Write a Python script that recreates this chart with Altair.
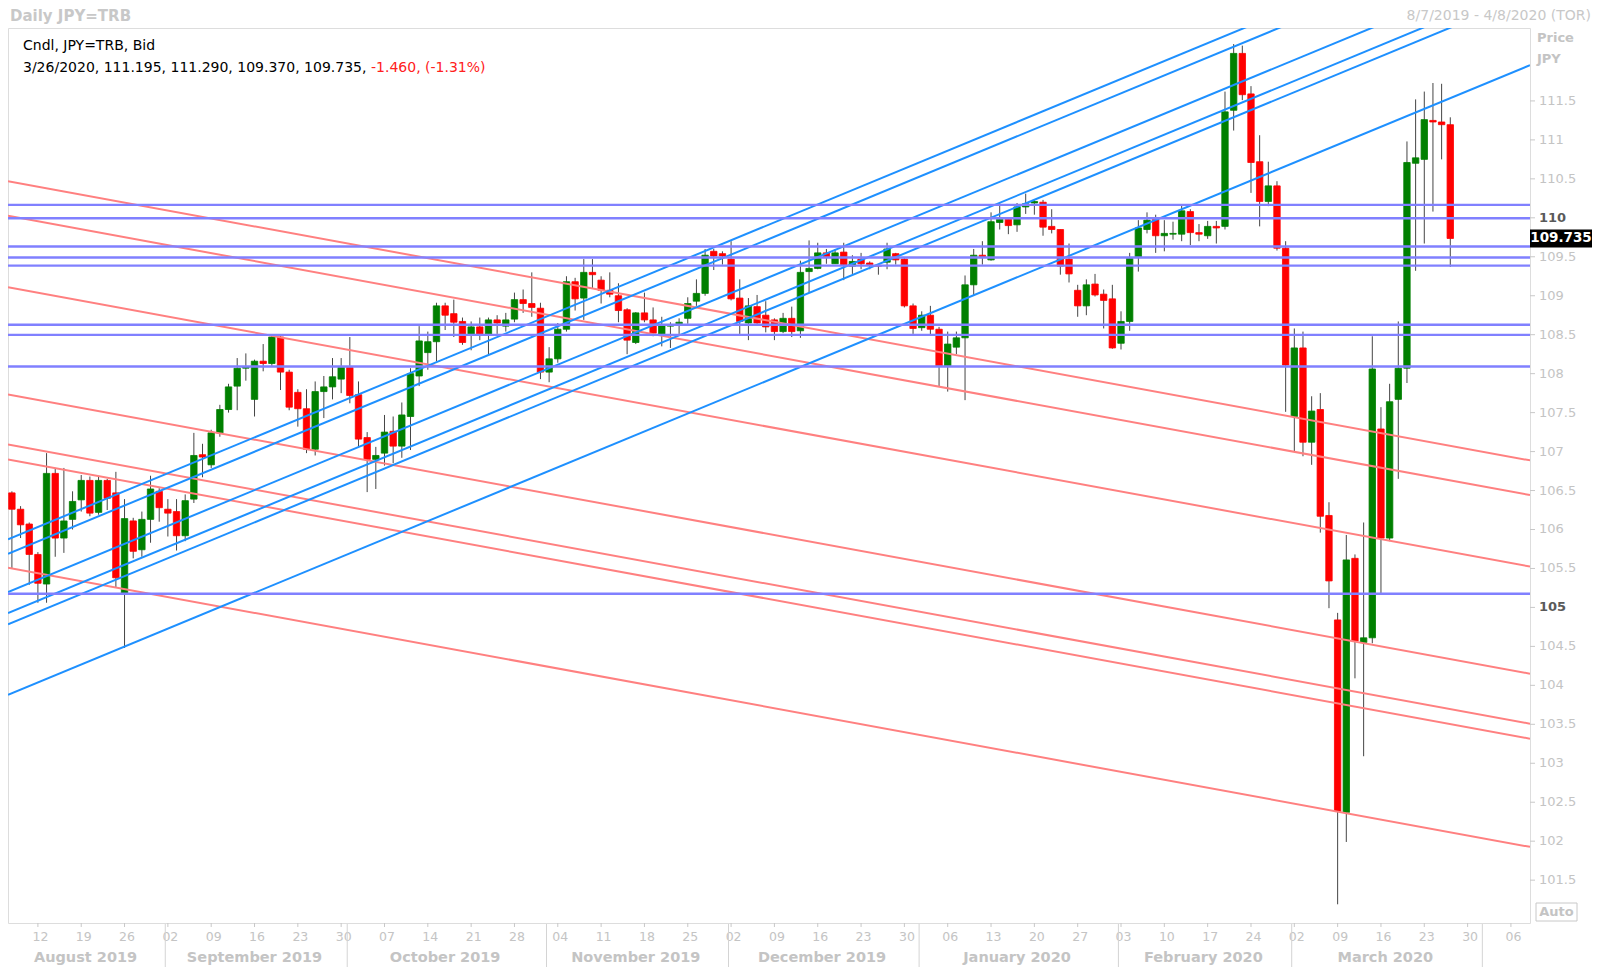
import altair as alt
import pandas as pd

# ------------------------------------------------------------------ data
start_date = "2019-08-07"
last_date = "2020-03-26"
axis_end_date = "2020-04-08"

open_ = [
    106.47, 106.26, 106.07, 105.68, 105.30, 106.72, 105.89, 106.13, 106.38, 106.63,
    106.22, 106.63, 106.47, 105.18, 106.11, 105.74, 106.13, 106.49, 106.26, 106.23,
    105.92, 106.39, 106.96, 106.83, 107.24, 107.54, 107.84, 108.07, 107.67, 108.16,
    108.13, 108.47, 108.02, 107.76, 107.55, 107.03, 107.77, 107.83, 107.93, 108.08,
    107.73, 107.18, 106.90, 106.98, 107.26, 107.07, 107.45, 107.97, 108.27, 108.41,
    108.87, 108.77, 108.67, 108.51, 108.60, 108.51, 108.69, 108.61, 108.70, 108.95,
    108.90, 108.84, 108.02, 108.19, 108.57, 109.18, 108.97, 109.30, 109.20, 109.07,
    109.00, 108.82, 108.40, 108.78, 108.69, 108.51, 108.61, 108.64, 108.71, 108.93,
    109.03, 109.57, 109.54, 109.47, 108.97, 108.65, 108.86, 108.75, 108.69, 108.54,
    108.71, 108.55, 109.31, 109.35, 109.55, 109.41, 109.56, 109.38, 109.47, 109.42,
    109.39, 109.43, 109.54, 109.47, 108.87, 108.59, 108.75, 108.57, 108.10, 108.34,
    108.46, 109.14, 109.52, 109.46, 109.94, 109.98, 109.91, 110.14, 110.19, 110.20,
    109.89, 109.85, 109.47, 109.07, 108.87, 109.15, 109.02, 108.96, 108.39, 108.67,
    109.49, 109.85, 109.98, 109.77, 109.79, 109.79, 110.08, 109.81, 109.77, 109.89,
    109.89, 111.38, 112.11, 111.59, 110.72, 110.21, 110.41, 109.61, 107.45, 108.33,
    107.12, 107.54, 106.18, 104.84, 102.37, 105.63, 104.55, 104.61, 107.29, 105.89,
    107.67, 108.07, 110.70, 110.75, 111.25, 111.23, 111.195,
]
high_ = [
    106.49, 106.30, 106.09, 105.71, 106.98, 106.79, 106.79, 106.49, 106.70, 106.68,
    106.68, 106.65, 106.74, 106.39, 106.15, 106.23, 106.69, 106.53, 106.39, 106.39,
    106.45, 107.24, 107.10, 107.28, 107.60, 107.87, 108.20, 108.26, 108.18, 108.38,
    108.50, 108.49, 108.05, 107.80, 107.80, 107.90, 107.97, 108.20, 108.20, 108.47,
    107.90, 107.25, 107.06, 107.47, 107.45, 107.63, 108.07, 108.61, 108.54, 108.91,
    108.91, 108.95, 108.72, 108.67, 108.72, 108.72, 108.75, 108.78, 109.04, 109.08,
    109.30, 108.91, 108.34, 108.65, 109.25, 109.23, 109.47, 109.47, 109.25, 109.30,
    109.16, 108.84, 108.79, 109.04, 108.85, 108.73, 108.66, 108.71, 108.98, 109.21,
    109.60, 109.60, 109.57, 109.70, 109.21, 108.97, 109.01, 108.93, 108.71, 108.78,
    108.86, 109.45, 109.71, 109.68, 109.60, 109.60, 109.68, 109.52, 109.55, 109.44,
    109.40, 109.68, 109.55, 109.48, 108.90, 108.80, 108.87, 108.60, 108.54, 108.54,
    109.26, 109.60, 109.70, 110.07, 110.19, 109.98, 110.19, 110.31, 110.23, 110.23,
    110.11, 109.85, 109.67, 109.14, 109.21, 109.28, 109.08, 109.14, 108.80, 109.55,
    109.97, 110.07, 110.04, 109.97, 109.95, 110.16, 110.11, 109.92, 109.96, 109.96,
    111.62, 112.23, 112.21, 111.69, 111.06, 110.72, 110.47, 109.70, 108.58, 108.54,
    107.71, 107.75, 106.35, 104.93, 105.93, 105.68, 106.09, 108.48, 107.57, 107.87,
    108.67, 110.98, 111.52, 111.62, 111.73, 111.72, 111.290,
]
low_ = [
    105.50, 105.89, 105.29, 105.06, 105.06, 105.65, 105.70, 106.00, 106.23, 106.17,
    106.19, 106.25, 105.25, 104.48, 105.63, 105.65, 105.83, 106.10, 105.91, 105.73,
    105.85, 106.34, 106.67, 106.79, 107.19, 107.50, 107.53, 107.91, 107.45, 108.03,
    108.10, 107.79, 107.53, 107.32, 106.98, 106.95, 107.43, 107.67, 107.75, 107.62,
    107.05, 106.48, 106.52, 106.82, 106.85, 106.92, 107.02, 107.84, 108.05, 108.16,
    108.56, 108.47, 108.37, 108.30, 108.43, 108.25, 108.51, 108.54, 108.66, 108.78,
    108.73, 107.93, 107.89, 108.14, 108.54, 108.81, 108.69, 109.10, 108.90, 108.98,
    108.66, 108.25, 108.38, 108.66, 108.48, 108.35, 108.33, 108.51, 108.64, 108.87,
    109.00, 109.33, 109.40, 108.94, 108.51, 108.43, 108.64, 108.53, 108.43, 108.52,
    108.47, 108.46, 109.04, 109.34, 109.41, 109.41, 109.20, 109.28, 109.34, 109.34,
    109.27, 109.34, 109.40, 108.85, 108.51, 108.55, 108.50, 107.84, 107.77, 108.25,
    107.66, 109.00, 109.40, 109.45, 109.85, 109.79, 109.82, 110.05, 110.04, 109.77,
    109.80, 109.27, 109.17, 108.73, 108.75, 108.99, 108.58, 108.32, 108.31, 108.55,
    109.31, 109.80, 109.55, 109.57, 109.72, 109.70, 109.65, 109.70, 109.73, 109.67,
    109.85, 111.12, 111.51, 110.32, 109.89, 110.15, 109.58, 107.51, 107.00, 106.94,
    106.83, 105.96, 104.99, 101.19, 101.99, 104.09, 103.09, 104.54, 105.18, 105.85,
    106.65, 107.88, 109.32, 109.67, 110.08, 110.75, 109.370,
]
close_ = [
    106.26, 106.06, 105.68, 105.31, 106.72, 105.89, 106.11, 106.36, 106.63, 106.21,
    106.63, 106.40, 105.38, 106.14, 105.72, 106.13, 106.52, 106.28, 106.21, 105.92,
    106.37, 106.95, 106.93, 107.24, 107.54, 107.83, 108.07, 108.09, 108.16, 108.13,
    108.47, 108.02, 107.57, 107.55, 107.03, 107.77, 107.83, 107.96, 108.08, 107.72,
    107.16, 106.90, 106.95, 107.25, 107.07, 107.47, 108.00, 108.42, 108.41, 108.87,
    108.75, 108.66, 108.40, 108.60, 108.51, 108.69, 108.65, 108.69, 108.95, 108.90,
    108.85, 108.02, 108.19, 108.57, 109.18, 108.96, 109.30, 109.27, 109.07, 109.02,
    108.81, 108.43, 108.78, 108.69, 108.52, 108.63, 108.62, 108.66, 108.90, 109.03,
    109.52, 109.51, 109.51, 108.96, 108.67, 108.87, 108.65, 108.60, 108.54, 108.71,
    108.54, 109.30, 109.35, 109.55, 109.50, 109.55, 109.40, 109.44, 109.41, 109.40,
    109.38, 109.60, 109.46, 108.87, 108.58, 108.75, 108.57, 108.10, 108.38, 108.46,
    109.14, 109.52, 109.49, 109.95, 109.98, 109.90, 110.14, 110.18, 110.21, 109.88,
    109.85, 109.38, 109.28, 108.87, 109.14, 109.01, 108.94, 108.33, 108.67, 109.48,
    109.87, 109.97, 109.77, 109.80, 109.80, 110.09, 109.81, 109.79, 109.89, 109.87,
    111.36, 112.11, 111.58, 110.71, 110.21, 110.41, 109.61, 108.11, 108.33, 107.12,
    107.52, 106.17, 105.34, 102.38, 105.61, 104.57, 104.61, 108.06, 105.89, 107.64,
    108.07, 110.71, 110.77, 111.26, 111.23, 111.195, 109.735,
]

# horizontal support / resistance levels
h_levels = [110.166, 109.995, 109.631, 109.490, 109.387, 108.627, 108.498, 108.092, 105.176]
# rising (blue) trend lines: price at the first bar, common slope per bar
blue_anchor = [105.894, 105.710, 105.218, 104.949, 104.804, 103.900]
blue_slope = 0.0460
# falling (pink) trend lines
red_anchor = [110.461, 110.016, 109.099, 107.724, 107.082, 106.890, 105.501]
red_slope = -0.0204

y_ticks = [101.5, 102, 102.5, 103, 103.5, 104, 104.5, 105, 105.5, 106, 106.5,
           107, 107.5, 108, 108.5, 109, 109.5, 110, 110.5, 111, 111.5]
bold_ticks = [105, 110]

# ------------------------------------------------------------------ layout
W, H = 1522, 895
PAD_BOTTOM = 44
X_DOM = [-0.45, 175.2]
Y_DOM = [100.95, 112.436]
XS = alt.Scale(domain=X_DOM, nice=False, zero=False)
YS = alt.Scale(domain=Y_DOM, nice=False, zero=False)
FONT = "DejaVu Sans"
LIGHT = "#c4c4c4"
TICK = "#c8c8c8"

GREEN, RED = "#008000", "#ff0000"
HCOL, BCOL, PCOL = "#8080ff", "#1e90ff", "#ff8080"

# ------------------------------------------------------------------ frames
dates = pd.bdate_range(start_date, last_date)
cal = pd.bdate_range(start_date, axis_end_date)
n = len(dates)

candles = pd.DataFrame({
    "i": list(range(n)),
    "open": open_, "high": high_, "low": low_, "close": close_,
})
candles["dir"] = ["up" if c >= o else "down" for o, c in zip(open_, close_)]
candles["x0"] = candles["i"] - 0.37
candles["x1"] = candles["i"] + 0.37

cal_df = pd.DataFrame({"d": cal, "i": range(len(cal))})
mondays = cal_df[cal_df["d"].dt.weekday == 0]
day_df = pd.DataFrame({
    "i": [float(v) for v in mondays["i"]],
    "t": [d.strftime("%d") for d in mondays["d"]],
})

cal_df["m"] = cal_df["d"].dt.to_period("M")
mg = cal_df.groupby("m")["i"].agg(["min", "max", "count"]).reset_index()
months = pd.DataFrame({
    "c": (mg["min"] + mg["max"]) / 2.0,
    "name": [p.strftime("%B %Y") for p in mg["m"]],
    "count": mg["count"],
})
months = months[months["count"] >= 10]
seps = pd.DataFrame({"s": mg["min"].iloc[1:].astype(float) - 0.3})

ytick_df = pd.DataFrame({
    "v": y_ticks,
    "t": [("%g" % v) for v in y_ticks],
    "b": [v in bold_ticks for v in y_ticks],
})


def diag(anchors, slope):
    rows = []
    for a in anchors:
        rows.append({"xa": X_DOM[0], "xb": X_DOM[1],
                     "ya": a + slope * X_DOM[0], "yb": a + slope * X_DOM[1]})
    return pd.DataFrame(rows)


blue_df = diag(blue_anchor, blue_slope)
red_df = diag(red_anchor, red_slope)
h_df = pd.DataFrame({"level": h_levels})


def X(f):
    return alt.X(f, scale=XS, axis=None, title=None)


def Y(f):
    return alt.Y(f, scale=YS, axis=None, title=None)


# ------------------------------------------------------------------ layers
wicks = alt.Chart(candles).mark_rule(color="#454545", strokeWidth=1).encode(
    x=X("i:Q"), y=Y("low:Q"), y2="high:Q",
)

dir_scale = alt.Scale(domain=["up", "down"], range=[GREEN, RED])
bodies = alt.Chart(candles).mark_rect(strokeWidth=0.8).encode(
    x=X("x0:Q"), x2="x1:Q",
    y=Y("open:Q"), y2="close:Q",
    fill=alt.Fill("dir:N", scale=dir_scale, legend=None),
    stroke=alt.Stroke("dir:N", scale=dir_scale, legend=None),
)

pink = alt.Chart(red_df).mark_rule(color=PCOL, strokeWidth=2, clip=True).encode(
    x=X("xa:Q"), x2="xb:Q", y=Y("ya:Q"), y2="yb:Q",
)
blue = alt.Chart(blue_df).mark_rule(color=BCOL, strokeWidth=2, clip=True).encode(
    x=X("xa:Q"), x2="xb:Q", y=Y("ya:Q"), y2="yb:Q",
)
horiz = alt.Chart(h_df).mark_rule(color=HCOL, strokeWidth=2.4).encode(
    y=Y("level:Q"),
)

# --- bottom axis (drawn by hand)
x_ticks = alt.Chart(day_df).mark_rule(color=TICK, strokeWidth=1).encode(
    x=X("i:Q"), y=alt.value(H), y2=alt.value(H + 4),
)
x_labels = alt.Chart(day_df).mark_text(
    font=FONT, fontSize=12.5, color=LIGHT, baseline="middle", align="center", dx=2.5,
).encode(x=X("i:Q"), y=alt.value(H + 14), text="t:N")

sep_rules = alt.Chart(seps).mark_rule(color="#d4d4d4", strokeWidth=1).encode(
    x=X("s:Q"), y=alt.value(H + 1), y2=alt.value(H + PAD_BOTTOM),
)
month_text = alt.Chart(months).mark_text(
    font=FONT, fontSize=14.5, fontWeight="bold", color=LIGHT, baseline="alphabetic",
).encode(x=X("c:Q"), y=alt.value(H + 39), text="name:N")

# --- right axis (drawn by hand)
y_tick_marks = alt.Chart(ytick_df).mark_rule(color=TICK, strokeWidth=1).encode(
    x=alt.value(W), x2=alt.value(W + 5), y=Y("v:Q"),
)
y_labels = alt.Chart(ytick_df).transform_filter("!datum.b").mark_text(
    font=FONT, fontSize=13, color=LIGHT, align="left", baseline="middle",
).encode(x=alt.value(W + 9), y=Y("v:Q"), text="t:N")
y_labels_bold = alt.Chart(ytick_df).transform_filter("datum.b").mark_text(
    font=FONT, fontSize=13, fontWeight="bold", color="#5a5a5a", align="left", baseline="middle",
).encode(x=alt.value(W + 9), y=Y("v:Q"), text="t:N")


def label(text, x, y, **kw):
    style = dict(font=FONT, fontSize=14, align="left", baseline="middle", color="black")
    style.update(kw)
    return alt.Chart(pd.DataFrame({"t": [text]})).mark_text(**style).encode(
        x=alt.value(x), y=alt.value(y), text="t:N")


last = n - 1
d_last = dates[last]
chg = close_[last] - close_[last - 1]
pct = chg / close_[last - 1] * 100
line1 = "Cndl, JPY=TRB, Bid"
line2 = "%d/%d/%d, %.3f, %.3f, %.3f, %.3f," % (
    d_last.month, d_last.day, d_last.year, open_[last], high_[last], low_[last], close_[last])
line2_red = "%.3f, (%.2f%%)" % (chg, pct)
header = "Daily JPY=TRB"
range_txt = "%d/%d/%d - %d/%d/%d (TOR)" % (
    dates[0].month, dates[0].day, dates[0].year, cal[-1].month, cal[-1].day, cal[-1].year)

texts = [
    label(header, 2, -12, fontSize=15, fontWeight="bold", color="#c8c8c8"),
    label(range_txt, W + 61, -12, align="right", color="#c8c8c8"),
    label(line1, 15, 18),
    label(line2, 15, 39.5),
    label(line2_red, 363, 39.5, color="#ff2020"),
    label("Price", W + 7, 10, fontSize=13, fontWeight="bold", color=LIGHT),
    label("JPY", W + 7, 31, fontSize=13, fontWeight="bold", color=LIGHT),
]

last_df = pd.DataFrame({"p": [close_[last]], "t": ["%.3f" % close_[last]]})
price_box = alt.Chart(last_df).mark_rule(color="black", strokeWidth=18, strokeCap="butt").encode(
    x=alt.value(W), x2=alt.value(W + 62), y=Y("p:Q"),
)
price_txt = alt.Chart(last_df).mark_text(
    font=FONT, fontSize=13.5, fontWeight="bold", color="white", align="center", baseline="middle",
).encode(x=alt.value(W + 31), y=Y("p:Q"), text="t:N")

auto_box = alt.Chart(pd.DataFrame({"t": ["Auto"]})).mark_rect(
    fill="white", stroke=TICK, strokeWidth=1,
).encode(x=alt.value(W + 6), x2=alt.value(W + 47), y=alt.value(H - 20), y2=alt.value(H - 2))
auto_txt = label("Auto", W + 26.5, H - 11, fontSize=13, fontWeight="bold", color=LIGHT, align="center")

chart = alt.layer(
    wicks, bodies, pink, blue, horiz,
    x_ticks, x_labels, sep_rules, month_text,
    y_tick_marks, y_labels, y_labels_bold,
    price_box, price_txt, auto_box, auto_txt, *texts,
).properties(
    width=W, height=H,
    padding={"left": 0, "top": 20, "right": 62, "bottom": PAD_BOTTOM},
    autosize=alt.AutoSizeParams(type="none"),
).configure_view(
    stroke="#8a8a8a", strokeWidth=1,
).configure(
    background="white",
)

chart.save("out.html", embed_options={"renderer": "svg", "actions": False})
